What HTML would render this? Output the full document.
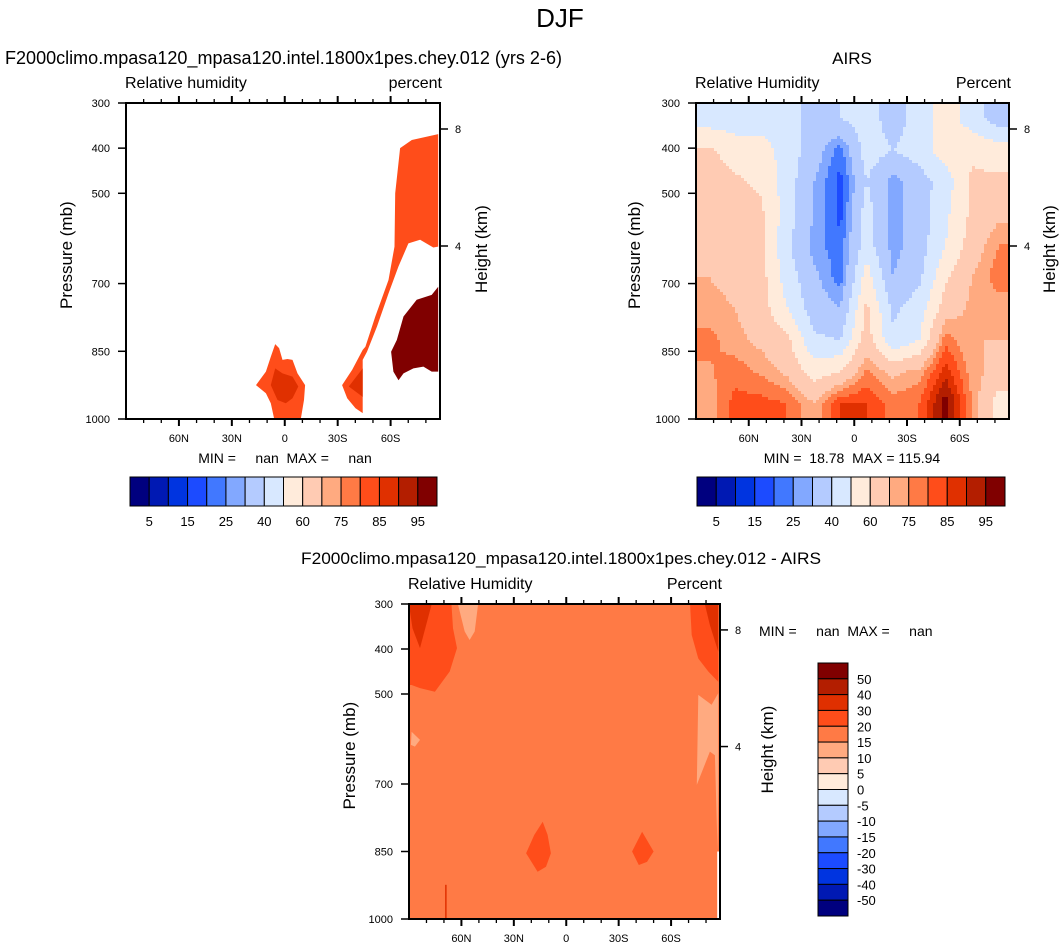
<!DOCTYPE html>
<html><head><meta charset="utf-8">
<style>
body{margin:0;background:#fff;}
svg{display:block;font-family:"Liberation Sans",Arial,sans-serif;}
.pre{white-space:pre;}
</style></head>
<body>
<svg id="fig" width="1064" height="952" viewBox="0 0 1064 952" xmlns="http://www.w3.org/2000/svg">
<text x="560" y="27" font-size="26" text-anchor="middle">DJF</text>
</svg>
<script>
// ---------- shared data ----------
const rhBounds = [5,10,15,20,25,30,40,50,60,70,75,80,85,90,95];
const rhLabels = ["5","15","25","40","60","75","85","95"];
const diffBounds = [-50,-40,-30,-20,-15,-10,-5,0,5,10,15,20,30,40,50];
const diffLabels = ["50","40","30","20","15","10","5","0","-5","-10","-15","-20","-30","-40","-50"];
const palette = ["#00007f","#0019b3","#0034e0","#1c4bff","#4178ff","#82a8ff","#b4cbff","#d8e8ff","#ffebdb","#ffcbb3","#ffaa80","#ff7a45","#ff4d1a","#e03000","#b31e00","#800000"];
const pressureTicks = [300,400,500,700,850,1000];
const latTicks = [60,30,0,-30,-60];
const latTickLabels = ["60N","30N","0","30S","60S"];
const heightTicks = [8,4];

// ---------- Panel 2 (AIRS) grid ----------
const airsLat = [83,68,53,38,23,8,-7,-22,-37,-52,-67,-82];
const airsP = [335,405,475,545,615,685,755,825,895,965];
const airsRows = [
 [45,45,45,45,35,40,45,35,45,55,45,35],
 [62,55,55,45,35,22,45,40,45,55,58,55],
 [65,62,58,45,30,18,40,27,35,45,62,62],
 [65,65,62,45,30,18,45,27,35,48,62,68],
 [68,65,62,42,27,22,45,27,35,50,65,75],
 [70,68,64,45,32,22,55,30,38,58,70,78],
 [72,70,65,50,35,30,62,38,45,65,72,72],
 [77,72,68,62,42,40,65,42,50,78,70,70],
 [74,78,74,68,55,60,76,68,72,88,72,68],
 [72,82,82,80,70,85,85,78,80,98,75,55]
];

// ---------- Panel 1 regions ----------
const m1Orange = [[-65.4,400],[-72,382],[-87,369],[-87,618],[-84.2,620],[-76.7,603],[-70.1,611],[-64.5,662],[-58.8,722],[-52.3,795],[-46.6,851],[-44.2,869],[-44.2,987],[-40.1,976],[-35.4,954],[-32.5,925],[-38.2,891],[-44.2,847],[-45.7,840],[-51.3,773],[-58.8,692],[-62.2,618],[-62.6,500]];
const m1OrangeValue = 82;
const m1BlobDark = [[-44.2,888],[-36.3,928],[-44.2,951]];
const m1BlobDarkValue = 87;
const m1DarkRed = [[-87,707],[-83.3,725],[-74.8,736],[-67.3,773],[-63.5,825],[-60.3,851],[-61.6,895],[-64.5,914],[-67.3,899],[-72.9,888],[-78.6,884],[-83.3,895],[-87,895]];
const m1DarkRedValue = 98;
const m1Eq = [[5.4,834],[7.9,862],[10.7,895],[16.3,925],[10.7,943],[7.9,965],[6,1000],[-9.1,1000],[-10.9,958],[-11.5,925],[-7.2,899],[-4.4,869],[-1.5,867],[1.3,869],[3.2,843]];
const m1EqValue = 82;
const m1EqInner = [[5.4,888],[7.9,925],[4.1,958],[-0.6,965],[-4.4,954],[-7.7,928],[-4.4,906],[1.3,899]];
const m1EqInnerValue = 87;

// ---------- Panel 3 regions ----------
const dBaseValue = 17;
const dRegions = [
 {v:25, pts:[[90,302],[65.7,302],[64.8,354],[62.5,398],[66.7,450],[75.2,495],[83.7,487],[88.5,480],[90,480]]},
 {v:35, pts:[[90,302],[77.1,302],[83.7,398],[88,354]]},
 {v:12, pts:[[61.9,302],[50.5,302],[52.4,361],[55.3,380],[58.1,361]]},
 {v:25, pts:[[-70.9,302],[-87,302],[-87,473],[-81.3,450],[-75.6,421],[-71.8,369]]},
 {v:35, pts:[[-79.4,302],[-87,302],[-87,406],[-82.2,347]]},
 {v:12, pts:[[-75.6,502],[-83.2,524],[-87,498],[-87,702],[-86.6,850],[-85.1,636],[-82.2,628],[-74.7,702]]},
 {v:12, pts:[[88.5,584],[83.7,602],[86.6,617],[88.9,613]]},
 {v:25, pts:[[13.5,784],[10.7,813],[8.8,854],[11.6,884],[16.4,895],[23,854],[18.3,813]]},
 {v:25, pts:[[-43.4,806],[-50,850],[-46.2,873],[-41.5,880],[-37.7,850]]}
];
const dWhiteStrip = [[-86.4,850],[-88,850],[-88,1000],[-86.4,1000]];
const dRedLine = [[68.9,924],[68.9,1000]];

// ---------- helpers ----------
const NS="http://www.w3.org/2000/svg";
const fig=document.getElementById('fig');
function mk(tag,attrs,parent){const e=document.createElementNS(NS,tag);for(const k in attrs)e.setAttribute(k,attrs[k]);(parent||fig).appendChild(e);return e;}
function txt(s,x,y,size,anchor,parent,rot){const t=mk('text',{x:x,y:y,'font-size':size,'text-anchor':anchor||'start'},parent);if(rot)t.setAttribute('transform',`rotate(-90 ${x} ${y})`);t.textContent=s;return t;}
function colorIndex(v,bounds){let i=0;while(i<bounds.length&&v>=bounds[i])i++;return i;}
function makeAxes(x0,x1,y0,y1){
  const latMax=90,latMin=-88;
  return {x:lat=>x0+(latMax-lat)/(latMax-latMin)*(x1-x0), y:p=>y0+(p-300)/700*(y1-y0), x0,x1,y0,y1};
}
function polyPts(ax,pts){return pts.map(d=>ax.x(Math.max(-88,d[0])).toFixed(1)+','+ax.y(d[1]).toFixed(1)).join(' ');}

function drawFrame(ax,g,opt){
  const {x0,x1,y0,y1}=ax;
  const hY={8:y0+26/316*(y1-y0),4:y0+143/316*(y1-y0)};
  for(let lat=80;lat>=-80;lat-=10){
    const X=ax.x(lat);const major=lat%30===0;const L=major?7:4;
    let t=mk('line',{x1:X,y1:y1,x2:X,y2:y1+L,stroke:'#000','stroke-width':major?2:1.3},g);
    
    t=mk('line',{x1:X,y1:y0,x2:X,y2:y0-L,stroke:'#000','stroke-width':major?2:1.3},g);
    
  }
  latTicks.forEach((lat,i)=>{const t=txt(latTickLabels[i],ax.x(lat),y1+23,11,'middle',g);
    });
  pressureTicks.forEach(p=>{const Y=ax.y(p);
    const l=mk('line',{x1:x0-8,y1:Y,x2:x0,y2:Y,stroke:'#000','stroke-width':1.5},g);
    
    const t=txt(String(p),x0-16,Y+4,11,'end',g);
    });
  heightTicks.forEach(h=>{const Y=hY[h];
    const l=mk('line',{x1:x1,y1:Y,x2:x1+8,y2:Y,stroke:'#000','stroke-width':1.5},g);
    
    const t=txt(String(h),x1+15,Y+4,11,'start',g);
    });
  const b=mk('rect',{x:x0,y:y0,width:x1-x0,height:y1-y0,fill:'none',stroke:'#000','stroke-width':2},g);
  
  let t=txt('Pressure (mb)',opt.pLabX,(y0+y1)/2+48,17,'start',g,true);
  
  t=txt('Height (km)',opt.hLabX,(y0+y1)/2+32,17,'start',g,true);
  
  t=txt(opt.left,x0-1,y0-15,16,'start',g);
  
  t=txt(opt.right,x1+2,y0-15,16,'end',g);
  
}

function drawRegion(ax,g,pts,v,bounds,name){
  const p=mk('polygon',{points:polyPts(ax,pts),fill:palette[colorIndex(v,bounds)]},g);
  
}

function hColorbar(x0,y0,w,h,g){
  const bw=w/16;
  for(let i=0;i<16;i++){
    const r=mk('rect',{x:x0+i*bw,y:y0,width:bw,height:h,fill:palette[i],stroke:'#000','stroke-width':1},g);
    
  }
  rhLabels.forEach((s,k)=>{const t=txt(s,x0+(2*k+1)*bw,y0+h+20,13,'middle',g);
    });
}
function preText(s,x,y,anchor,g){
  const t=mk('text',{x:x,y:y,'font-size':14,'text-anchor':anchor,'class':'pre'},g);t.textContent=s;return t;
}

// ---------- Panel 1 ----------
(function(){
  const g=mk('g',{});
  const ax=makeAxes(126,440,103,419);
  drawRegion(ax,g,m1Orange,m1OrangeValue,rhBounds,'contour-region');
  drawRegion(ax,g,m1BlobDark,m1BlobDarkValue,rhBounds,'contour-region');
  drawRegion(ax,g,m1DarkRed,m1DarkRedValue,rhBounds,'contour-region');
  drawRegion(ax,g,m1Eq,m1EqValue,rhBounds,'contour-region');
  drawRegion(ax,g,m1EqInner,m1EqInnerValue,rhBounds,'contour-region');
  drawFrame(ax,g,{pLabX:72,hLabX:487,left:'Relative humidity',right:'percent'});
  let t=txt('F2000climo.mpasa120_mpasa120.intel.1800x1pes.chey.012 (yrs 2-6)',5,64,18,'start',g);
  t.setAttribute('textLength','557');t.setAttribute('lengthAdjust','spacingAndGlyphs');
  
  t=preText('MIN =     nan  MAX =     nan',285,463,'middle',g);
  
  const cb=mk('g',{},g);
  hColorbar(130,477,307,29,cb);
})();

// ---------- Panel 2 ----------
(function(){
  const g=mk('g',{});
  const ax=makeAxes(696,1009,103,419);
  const nR=airsP.length,nC=airsLat.length;
  function val(lat,p){
    let fc=(lat-airsLat[0])/(airsLat[nC-1]-airsLat[0])*(nC-1);
    let fr=(p-airsP[0])/(airsP[nR-1]-airsP[0])*(nR-1);
    fc=Math.max(0,Math.min(nC-1,fc));fr=Math.max(0,Math.min(nR-1,fr));
    const c0=Math.min(nC-2,Math.floor(fc)),r0=Math.min(nR-2,Math.floor(fr));
    const tc=fc-c0,tr=fr-r0;
    const a=airsRows[r0][c0],b=airsRows[r0][c0+1],c=airsRows[r0+1][c0],d=airsRows[r0+1][c0+1];
    return (a*(1-tc)+b*tc)*(1-tr)+(c*(1-tc)+d*tc)*tr;
  }
  const cells=mk('g',{'shape-rendering':'crispEdges'},g);
  
  const step=3;
  for(let py=ax.y0;py<ax.y1;py+=step){
    for(let px=ax.x0;px<ax.x1;px+=step){
      const lat=90-((px+step/2)-ax.x0)/(ax.x1-ax.x0)*178;
      const p=300+((py+step/2)-ax.y0)/(ax.y1-ax.y0)*700;
      mk('rect',{x:px,y:py,width:Math.min(step,ax.x1-px)+0.3,height:Math.min(step,ax.y1-py)+0.3,fill:palette[colorIndex(val(lat,p),rhBounds)]},cells);
    }
  }
  drawFrame(ax,g,{pLabX:640,hLabX:1055,left:'Relative Humidity',right:'Percent'});
  let t=txt('AIRS',852,64,17,'middle',g);
  
  t=preText('MIN =  18.78  MAX = 115.94',852,463,'middle',g);
  
  const cb=mk('g',{},g);
  hColorbar(697,477,308,29,cb);
})();

// ---------- Panel 3 ----------
(function(){
  const g=mk('g',{});
  const ax=makeAxes(409,720,604,919);
  let r=mk('rect',{x:ax.x0,y:ax.y0,width:ax.x1-ax.x0,height:ax.y1-ax.y0,fill:palette[colorIndex(dBaseValue,diffBounds)]},g);
  
  dRegions.forEach(reg=>drawRegion(ax,g,reg.pts,reg.v,diffBounds,'difference-region'));
  const w=mk('polygon',{points:polyPts(ax,dWhiteStrip),fill:'#fff'},g);
  
  const l=mk('line',{x1:ax.x(dRedLine[0][0]),y1:ax.y(dRedLine[0][1]),x2:ax.x(dRedLine[1][0]),y2:ax.y(dRedLine[1][1]),stroke:'#e03000','stroke-width':1.5},g);
  
  drawFrame(ax,g,{pLabX:355,hLabX:773,left:'Relative Humidity',right:'Percent'});
  let t=txt('F2000climo.mpasa120_mpasa120.intel.1800x1pes.chey.012 - AIRS',561,564,17,'middle',g);
  t.setAttribute('textLength','520');t.setAttribute('lengthAdjust','spacingAndGlyphs');
  
  t=preText('MIN =     nan  MAX =     nan',759,636,'start',g);
  
  const cb=mk('g',{},g);
  const x0=818,y0=663,w2=30,h=253,bh=h/16;
  for(let i=0;i<16;i++){
    const rr=mk('rect',{x:x0,y:y0+i*bh,width:w2,height:bh,fill:palette[15-i],stroke:'#000','stroke-width':1},cb);
    
  }
  diffLabels.forEach((s,k)=>{const tt=txt(s,x0+w2+9,y0+(k+1)*bh+5,13,'start',cb);
    });
})();
</script>
</body></html>
